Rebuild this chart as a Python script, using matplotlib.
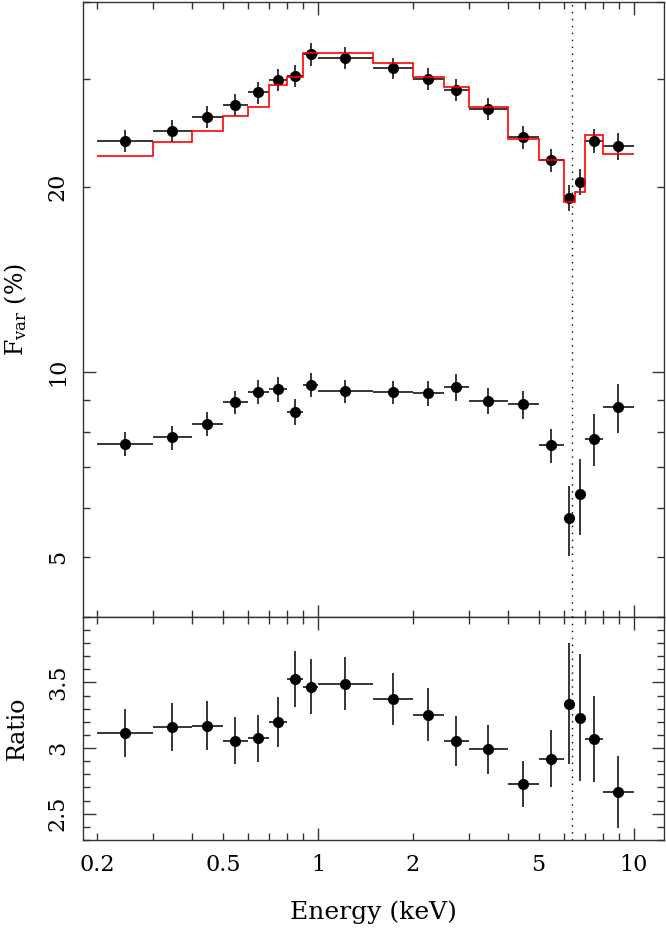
import numpy as np
import matplotlib
matplotlib.use('Agg')
import matplotlib.pyplot as plt

plt.rcParams['font.family'] = ['DejaVu Serif']
plt.rcParams['mathtext.fontset'] = 'dejavuserif'

# energy bins (keV)
e_lo = [0.2, 0.3, 0.4, 0.5, 0.6, 0.7, 0.8, 0.9, 1.0, 1.5, 2.0, 2.5, 3.0, 4.0, 5.0, 6.0, 6.5, 7.0, 8.0]
e_hi = [0.3, 0.4, 0.5, 0.6, 0.7, 0.8, 0.9, 1.0, 1.5, 2.0, 2.5, 3.0, 4.0, 5.0, 6.0, 6.5, 7.0, 8.0, 10.0]
e_mid = [0.245, 0.346, 0.447, 0.548, 0.648, 0.748, 0.849, 0.949, 1.22, 1.73, 2.24, 2.74,
         3.46, 4.47, 5.48, 6.24, 6.75, 7.48, 8.94]

# upper Fvar spectrum (%) and model
fvar_hi = [23.8, 24.7, 26.0, 27.2, 28.5, 29.9, 30.3, 32.9, 32.4, 31.2, 30.0, 28.8,
           26.8, 24.1, 22.1, 19.2, 20.4, 23.8, 23.3]
fvar_hi_err = [0.98, 1.03, 1.07, 1.12, 1.19, 1.25, 1.25, 1.41, 1.33, 1.24, 1.26, 1.23,
               1.12, 1.03, 0.95, 0.94, 1.01, 1.10, 1.14]
model_hi = [22.5, 23.7, 24.7, 26.1, 27.0, 29.3, 30.2, 33.1, 33.0, 31.8, 30.2, 29.1,
            27.0, 23.9, 22.1, 18.9, 19.6, 24.3, 22.6]

# lower Fvar spectrum (%)
fvar_lo = [7.64, 7.83, 8.23, 8.93, 9.28, 9.37, 8.61, 9.54, 9.30, 9.28, 9.25, 9.46,
           8.98, 8.86, 7.60, 5.78, 6.33, 7.79, 8.76]
fvar_lo_err = [0.35, 0.35, 0.37, 0.37, 0.42, 0.43, 0.42, 0.44, 0.40, 0.40, 0.43, 0.48,
               0.43, 0.46, 0.49, 0.75, 0.90, 0.75, 0.80]

# ratio of the two
ratio = [3.115, 3.161, 3.171, 3.055, 3.075, 3.201, 3.525, 3.468, 3.49, 3.375, 3.254, 3.055,
         2.99, 2.726, 2.919, 3.337, 3.231, 3.07, 2.666]
ratio_err = [0.185, 0.185, 0.185, 0.178, 0.18, 0.19, 0.216, 0.21, 0.2, 0.197, 0.2, 0.19,
             0.186, 0.177, 0.217, 0.46, 0.485, 0.327, 0.277]

fe_line = 6.4

x_major = [1, 10]
x_major_labels = ['1', '10']
x_minor = [0.2, 0.3, 0.4, 0.5, 0.6, 0.7, 0.8, 0.9, 2, 3, 4, 5, 6, 7, 8, 9]
x_minor_labels = ['0.2', '', '', '0.5', '', '', '', '', '2', '', '', '5', '', '', '', '']
y_major = [10]
y_major_labels = ['10']
y_minor = [5, 6, 7, 8, 9, 20, 30, 40]
y_minor_labels = ['5', '', '', '', '', '20', '', '']
r_major = [2.5, 3.0, 3.5]
r_major_labels = ['2.5', '3', '3.5']

mid = np.array(e_mid)
xerr = [mid - np.array(e_lo), np.array(e_hi) - mid]

fig = plt.figure(figsize=(6.66, 9.35), dpi=100)
ax1 = fig.add_axes([0.1242, 0.3404, 0.8732, 0.6575])
ax2 = fig.add_axes([0.1242, 0.1016, 0.8732, 0.2388], sharex=ax1)

eb = dict(fmt='o', color='k', ms=7, elinewidth=1.1, capsize=0, zorder=3)
ax1.errorbar(e_mid, fvar_hi, xerr=xerr, yerr=fvar_hi_err, **eb)
ax1.errorbar(e_mid, fvar_lo, xerr=xerr, yerr=fvar_lo_err, **eb)
ax1.stairs(model_hi, e_lo + [e_hi[-1]], baseline=None, color='red', lw=1.2, zorder=4)
ax2.errorbar(e_mid, ratio, xerr=xerr, yerr=ratio_err, **eb)

for ax in (ax1, ax2):
    ax.axvline(fe_line, color='k', lw=1, ls=(0, (1, 4)), zorder=2)
    ax.set_xscale('log')
    for s in ax.spines.values():
        s.set_linewidth(1)
        s.set_color('#333333')

ax1.set_yscale('log')
ax1.set_ylim(4, 40)
ax1.set_yticks(y_major, labels=y_major_labels)
ax1.set_yticks(y_minor, labels=y_minor_labels, minor=True)

ax2.set_xlim(0.18, 12.5)
ax2.set_xticks(x_major, labels=x_major_labels)
ax2.set_xticks(x_minor, labels=x_minor_labels, minor=True)
ax2.set_ylim(2.3, 4.0)
ax2.set_yticks(r_major, labels=r_major_labels)
ax2.set_yticks(np.arange(2.3, 4.01, 0.1), minor=True)
ax1.tick_params(axis='x', which='both', labelbottom=False)

for ax in (ax1, ax2):
    ax.tick_params(which='both', direction='in', top=True, right=True, width=1,
                   color='#333333', labelsize=16)
    ax.tick_params(which='major', length=9)
    ax.tick_params(which='minor', length=5)
    ax.tick_params(axis='y', which='both', labelrotation=90, pad=10)
    ax.tick_params(axis='x', which='both', pad=10)
    for lab in ax.get_yticklabels(which='both'):
        lab.set_va('center')

ax1.set_ylabel(r'F$_{\mathregular{var}}$ (%)', fontsize=17)
ax2.set_ylabel('Ratio', fontsize=17)
ax1.yaxis.set_label_coords(-0.092, 0.5)
ax2.yaxis.set_label_coords(-0.092, 0.5)
ax2.set_xlabel('Energy (keV)', fontsize=18, labelpad=18)

fig.savefig('out.png', dpi=100)
